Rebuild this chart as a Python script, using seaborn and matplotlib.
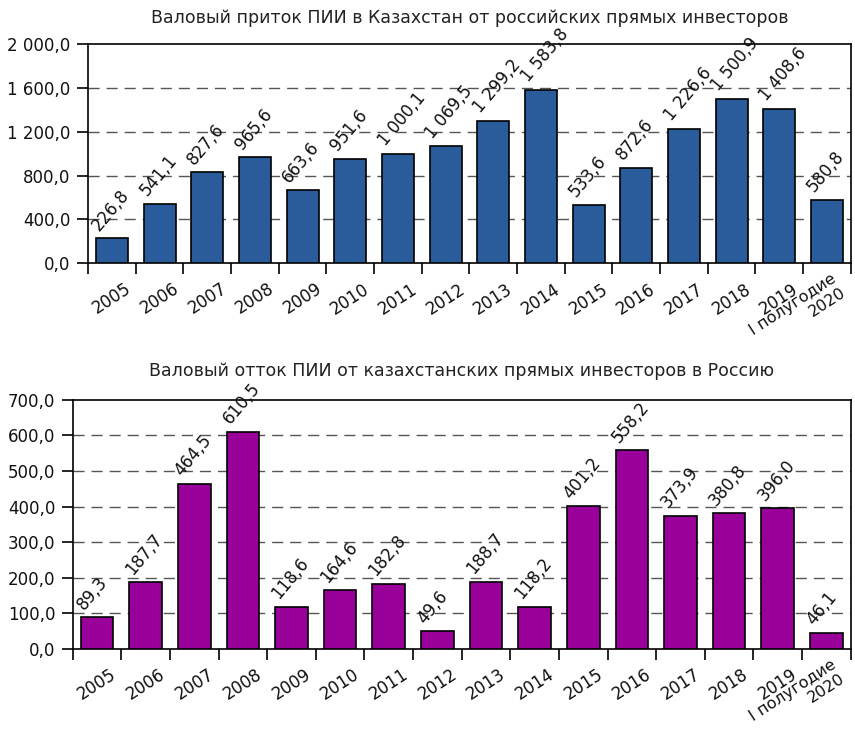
import matplotlib
matplotlib.use("Agg")
import matplotlib.pyplot as plt
import seaborn as sns
import pandas as pd
import numpy as np

categories = ["2005", "2006", "2007", "2008", "2009", "2010", "2011", "2012",
              "2013", "2014", "2015", "2016", "2017", "2018", "2019",
              "I полугодие\n2020"]
inflow = [226.8, 541.1, 827.6, 965.6, 663.6, 951.6, 1000.1, 1069.5,
          1299.2, 1583.8, 533.6, 872.6, 1226.6, 1500.9, 1408.6, 580.8]
outflow = [89.3, 187.7, 464.5, 610.5, 118.6, 164.6, 182.8, 49.6,
           188.7, 118.2, 401.2, 558.2, 373.9, 380.8, 396.0, 46.1]
title_top = "Валовый приток ПИИ в Казахстан от российских прямых инвесторов"
title_bottom = "Валовый отток ПИИ от казахстанских прямых инвесторов в Россию"
color_top = "#2A5B9B"
color_bottom = "#990099"

sns.set_theme(style="white")
plt.rcParams['font.family'] = ['DejaVu Sans']
plt.rcParams['text.color'] = '#111111'


def fmt(v):
    return f"{v:,.1f}".replace(",", " ").replace(".", ",")


fig = plt.figure(figsize=(8.55, 7.35), dpi=100)
ax1 = fig.add_axes([0.103, 0.642, 0.892, 0.298])
ax2 = fig.add_axes([0.085, 0.117, 0.910, 0.339])

FS = 12
ROT = 33


def draw(ax, values, color, ymax, step, title, tpad):
    df = pd.DataFrame({"cat": categories, "val": values})
    sns.barplot(data=df, x="cat", y="val", color=color, width=0.67,
                edgecolor="black", linewidth=1.2, saturation=1, ax=ax, zorder=3)
    for p in ax.patches:
        p.set_facecolor(color)
    n = len(categories)
    ax.set_xlim(-0.5, n - 0.5)
    ax.set_ylim(0, ymax)
    yt = np.arange(0, ymax + step / 2, step)
    ax.set_yticks(yt)
    ax.set_yticklabels([fmt(v) for v in yt], fontsize=FS, color="#111111")
    ax.set_xticks(range(n))
    # last (two-line) category label is placed separately below
    ax.set_xticklabels(categories[:-1] + [""], rotation=ROT, fontsize=FS,
                       ha="center", color="#111111")
    ax.annotate(categories[-1], xy=(n - 1, 0), xycoords=("data", "axes fraction"),
                xytext=(3, -6), textcoords="offset points", rotation=ROT,
                rotation_mode="anchor", ha="right", va="top",
                multialignment="right", fontsize=11.5, color="#111111",
                linespacing=1.1, annotation_clip=False)
    ax.set_xticks(np.arange(-0.5, n, 1.0), minor=True)
    ax.tick_params(axis="x", which="major", length=0, pad=12)
    ax.tick_params(axis="x", which="minor", length=8, width=1.2,
                   color="black", direction="out", bottom=True)
    ax.tick_params(axis="y", length=8, width=1.2, color="black",
                   direction="out", left=True, pad=4.5)
    for y in yt[1:-1]:
        ax.axhline(y, color="#555555", lw=1.0, ls=(0, (8, 5)), zorder=1)
    for s in ax.spines.values():
        s.set_visible(True)
        s.set_color("black")
        s.set_linewidth(1.2)
    ax.set_xlabel("")
    ax.set_ylabel("")
    ax.set_title(title, fontsize=12.5, pad=tpad, color="#222222")
    for i, v in enumerate(values):
        ax.annotate(fmt(v), xy=(i, v), xytext=(-7, 3),
                    textcoords="offset points", rotation=50,
                    rotation_mode="anchor", ha="left", va="bottom",
                    fontsize=FS, zorder=5, color="#111111")


draw(ax1, inflow, color_top, 2000, 400, title_top, 15)
draw(ax2, outflow, color_bottom, 700, 100, title_bottom, 17)

fig.savefig("out.png", dpi=100)
